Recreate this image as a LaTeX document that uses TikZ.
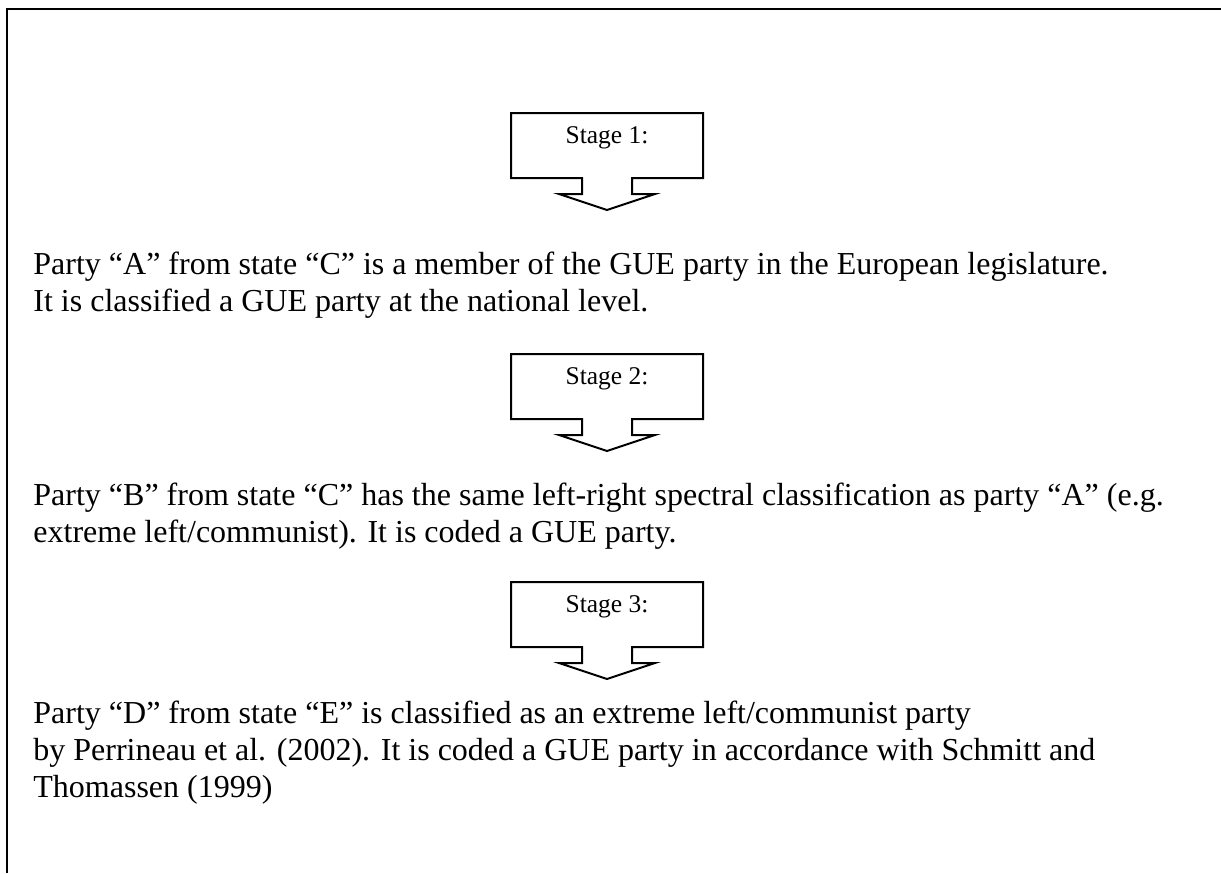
\documentclass[tikz,border=0pt]{standalone}
\usepackage{fontspec}
\setmainfont{Liberation Serif}
\usetikzlibrary{positioning}

\tikzset{
  stagetext/.style={inner sep=0pt, anchor=base, font=\fontsize{12.75}{14}\selectfont},
  bodytext/.style={inner sep=0pt, anchor=base west, align=left,
                   font=\fontsize{16}{18.4}\selectfont},
  callout/.style={line width=1pt, line join=miter}
}

\begin{document}
\begin{tikzpicture}[x=0.5pt, y=-0.5pt]

  \useasboundingbox (0,0) rectangle (1221,873);

  %draw frame
  \draw[line width=1.2pt] (7,873) -- (7,9) -- (1221,9);

  %draw stage arrows
  \foreach \i/\top in {1/113, 2/354, 3/582}{
     \draw[callout] (511,\top) -- (703,\top) -- (703,\top+65) -- (632,\top+65)
        -- (632,\top+81) -- (655,\top+81) -- (607,\top+97) -- (559,\top+81)
        -- (582,\top+81) -- (582,\top+65) -- (511,\top+65) -- cycle;
     \node[stagetext] (stage\i) at (607,\top+30) {Stage \i:};
  }

  %draw text (anchored at the last line)
  \node[bodytext] (partyA) at (33,311)
     {Party ``A'' from state ``C'' is a member of the GUE party in the European legislature.\\
      It is classified a GUE party at the national level.};
  \node[bodytext] (partyB) at (33,542)
     {Party ``B'' from state ``C'' has the same left-right spectral classification as party ``A'' (e.g.\\
      extreme left/communist). It is coded a GUE party.};
  \node[bodytext] (partyD) at (33,797)
     {Party ``D'' from state ``E'' is classified as an extreme left/communist party\\
      by Perrineau et al. (2002). It is coded a GUE party in accordance with Schmitt and\\
      Thomassen (1999)};

\end{tikzpicture}
\end{document}
